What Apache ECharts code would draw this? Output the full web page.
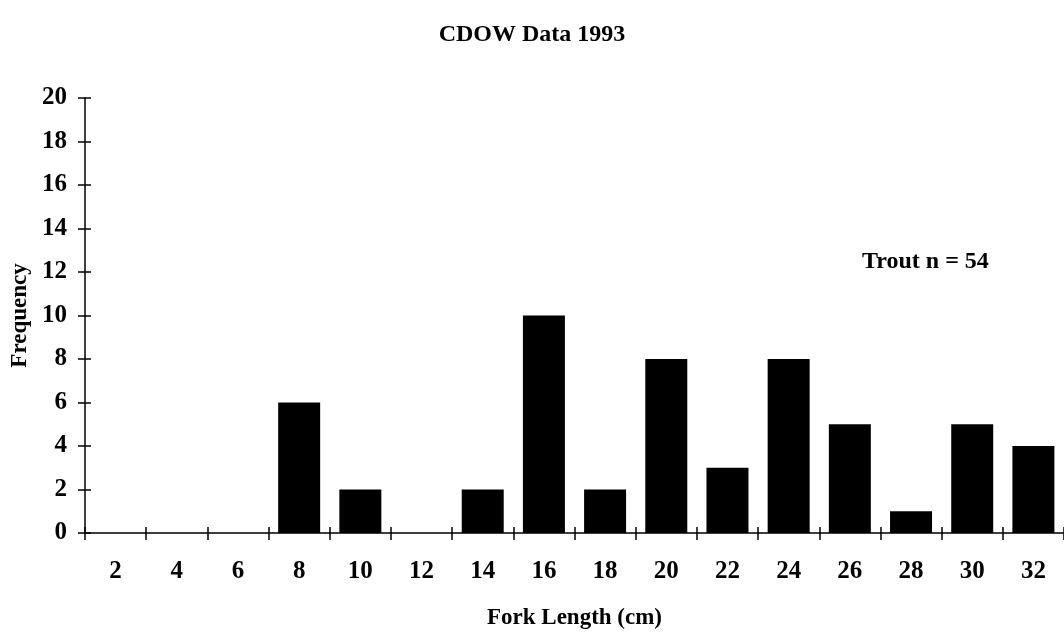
<!DOCTYPE html>
<html>
<head>
<meta charset="utf-8">
<script src="https://cdn.jsdelivr.net/npm/echarts@6/dist/echarts.min.js"></script>
<style>
  html, body { margin: 0; padding: 0; background: #fff; }
  #chart { width: 1064px; height: 635px; }
</style>
</head>
<body>
<div id="chart"></div>
<script>
// Fork-length histogram for trout, CDOW 1993 sample
const forkLengths = ['2', '4', '6', '8', '10', '12', '14', '16', '18', '20', '22', '24', '26', '28', '30', '32'];
const frequency = [0, 0, 0, 6, 2, 0, 2, 10, 2, 8, 3, 8, 5, 1, 5, 4];
const yMin = 0;
const yMax = 20;
const yStep = 2;
const titleText = 'CDOW Data 1993';
const noteText = 'Trout n = 54';

const serif = '"Liberation Serif", "Times New Roman", serif';
const ink = '#000';

const chart = echarts.init(document.getElementById('chart'), null, { renderer: 'canvas' });

chart.setOption({
  backgroundColor: '#fff',
  animation: false,
  title: {
    text: titleText,
    left: 'center',
    top: 18,
    textStyle: { fontFamily: serif, fontWeight: 'bold', fontSize: 24, color: ink }
  },
  grid: { left: 85, top: 98, width: 987, height: 436, containLabel: false },
  xAxis: [
    {
      type: 'category',
      data: forkLengths,
      position: 'bottom',
      name: 'Fork Length (cm)',
      nameLocation: 'middle',
      nameGap: 74,
      nameTextStyle: { fontFamily: serif, fontWeight: 'bold', fontSize: 23, color: ink },
      axisLine: { show: true, lineStyle: { color: ink, width: 1.5 } },
      axisTick: { show: true, inside: false, length: 7, lineStyle: { color: ink, width: 1.5 } },
      axisLabel: { fontFamily: serif, fontWeight: 'bold', fontSize: 25, color: ink, margin: 26 },
      splitLine: { show: false }
    },
    {
      // inner half of the crossing tick marks
      type: 'category',
      data: forkLengths,
      position: 'bottom',
      axisLine: { show: false },
      axisTick: { show: true, inside: true, length: 6, lineStyle: { color: ink, width: 1.5 } },
      axisLabel: { show: false },
      splitLine: { show: false }
    }
  ],
  yAxis: [
    {
      type: 'value',
      min: yMin,
      max: yMax,
      interval: yStep,
      position: 'left',
      name: 'Frequency',
      nameLocation: 'middle',
      nameGap: 53,
      nameRotate: 90,
      nameTextStyle: { fontFamily: serif, fontWeight: 'bold', fontSize: 23, color: ink },
      axisLine: { show: true, lineStyle: { color: ink, width: 1.5 } },
      axisTick: { show: true, inside: false, length: 7, lineStyle: { color: ink, width: 1.5 } },
      axisLabel: { fontFamily: serif, fontWeight: 'bold', fontSize: 25, color: ink, margin: 18 },
      splitLine: { show: false }
    },
    {
      // inner half of the crossing tick marks
      type: 'value',
      min: yMin,
      max: yMax,
      interval: yStep,
      position: 'left',
      axisLine: { show: false },
      axisTick: { show: true, inside: true, length: 6, lineStyle: { color: ink, width: 1.5 } },
      axisLabel: { show: false },
      splitLine: { show: false }
    }
  ],
  series: [
    {
      type: 'bar',
      data: frequency,
      xAxisIndex: 0,
      yAxisIndex: 0,
      barWidth: 42,
      itemStyle: { color: ink },
      silent: true
    }
  ],
  graphic: [
    {
      type: 'text',
      left: 862,
      top: 250,
      style: {
        text: noteText,
        fontFamily: serif,
        fontWeight: 'bold',
        fontSize: 24,
        fill: ink
      }
    }
  ]
});
</script>
</body>
</html>
